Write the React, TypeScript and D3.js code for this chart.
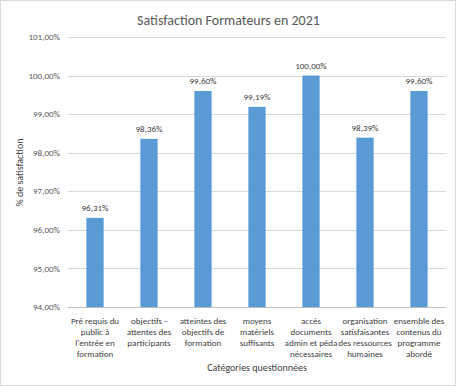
import { useEffect, useRef } from "react";
import * as d3 from "d3";

const categories = [
  ["Pré requis du", "public à", "l'entrée en", "formation"],
  ["objectifs -", "attentes des", "participants"],
  ["atteintes des", "objectifs de", "formation"],
  ["moyens", "matériels", "suffisants"],
  ["accès", "documents", "admin et péda", "nécessaires"],
  ["organisation", "satisfaisantes", "des ressources", "humaines"],
  ["ensemble des", "contenus du", "programme", "abordé"],
];
const values = [96.31, 98.36, 99.6, 99.19, 100.0, 98.39, 99.6];
const yTicks = [94, 95, 96, 97, 98, 99, 100, 101];

const fmt = (v: number) => v.toFixed(2).replace(".", ",") + "%";

const App = () => {
  const ref = useRef<HTMLDivElement>(null);

  useEffect(() => {
    document.body.style.margin = "0";
    const width = 457;
    const height = 387;
    const margin = { top: 37, right: 11, bottom: 79, left: 68 };
    const font = "Carlito, 'Open Sans', 'Liberation Sans', sans-serif";

    const svg = d3
      .select(ref.current)
      .html("")
      .append("svg")
      .attr("width", width)
      .attr("height", height)
      .style("display", "block")
      .style("font-family", font);

    svg
      .append("rect")
      .attr("x", 0.5)
      .attr("y", 0.5)
      .attr("width", 455)
      .attr("height", 385)
      .attr("fill", "#fff")
      .attr("stroke", "#d9d9d9");

    const idx = categories.map((_, i) => String(i));
    const x = d3
      .scaleBand()
      .domain(idx)
      .range([margin.left, width - margin.right])
      .paddingInner(0.68)
      .paddingOuter(0.34);

    const y = d3
      .scaleLinear()
      .domain([94, 101])
      .range([height - margin.bottom - 1, margin.top]);

    // gridlines
    svg
      .append("g")
      .selectAll("line")
      .data(yTicks)
      .enter()
      .append("line")
      .attr("x1", margin.left)
      .attr("x2", width - margin.right)
      .attr("y1", (d) => Math.round(y(d)) + 0.5)
      .attr("y2", (d) => Math.round(y(d)) + 0.5)
      .attr("stroke", (d) => (d === 94 ? "#bfbfbf" : "#d9d9d9"));

    // y tick labels
    svg
      .append("g")
      .selectAll("text")
      .data(yTicks)
      .enter()
      .append("text")
      .attr("x", margin.left - 8)
      .attr("y", (d) => y(d))
      .attr("dy", "0.35em")
      .attr("text-anchor", "end")
      .attr("font-size", 9)
      .attr("fill", "#595959")
      .text((d) => fmt(d));

    // bars
    svg
      .append("g")
      .selectAll("rect")
      .data(values)
      .enter()
      .append("rect")
      .attr("x", (_, i) => x(String(i))!)
      .attr("y", (d) => y(d))
      .attr("width", x.bandwidth())
      .attr("height", (d) => y(94) - y(d))
      .attr("fill", "#5b9bd5");

    // data labels
    svg
      .append("g")
      .selectAll("text")
      .data(values)
      .enter()
      .append("text")
      .attr("x", (_, i) => x(String(i))! + x.bandwidth() / 2)
      .attr("y", (d) => y(d) - 7)
      .attr("text-anchor", "middle")
      .attr("font-size", 9)
      .attr("fill", "#404040")
      .text((d) => fmt(d));

    // category labels
    const cat = svg
      .append("g")
      .selectAll("text")
      .data(categories)
      .enter()
      .append("text")
      .attr("text-anchor", "middle")
      .attr("font-size", 9)
      .attr("fill", "#404040");
    cat
      .selectAll("tspan")
      .data((d, i) => d.map((line) => ({ line, i })))
      .enter()
      .append("tspan")
      .attr("x", (d) => x(String(d.i))! + x.bandwidth() / 2)
      .attr("y", (_, j) => 324 + j * 11)
      .text((d) => d.line);

    // titles
    svg
      .append("text")
      .attr("x", width / 2)
      .attr("y", 25)
      .attr("text-anchor", "middle")
      .attr("font-size", 14)
      .attr("fill", "#595959")
      .text("Satisfaction Formateurs en 2021");

    svg
      .append("text")
      .attr("x", (margin.left + width - margin.right) / 2)
      .attr("y", 371)
      .attr("text-anchor", "middle")
      .attr("font-size", 10)
      .attr("fill", "#404040")
      .text("Catégories questionnées");

    svg
      .append("text")
      .attr("transform", `translate(23,${(margin.top + height - margin.bottom) / 2}) rotate(-90)`)
      .attr("text-anchor", "middle")
      .attr("font-size", 10)
      .attr("fill", "#404040")
      .text("% de satisfaction");
  }, []);

  return <div ref={ref} />;
};

export default App;
